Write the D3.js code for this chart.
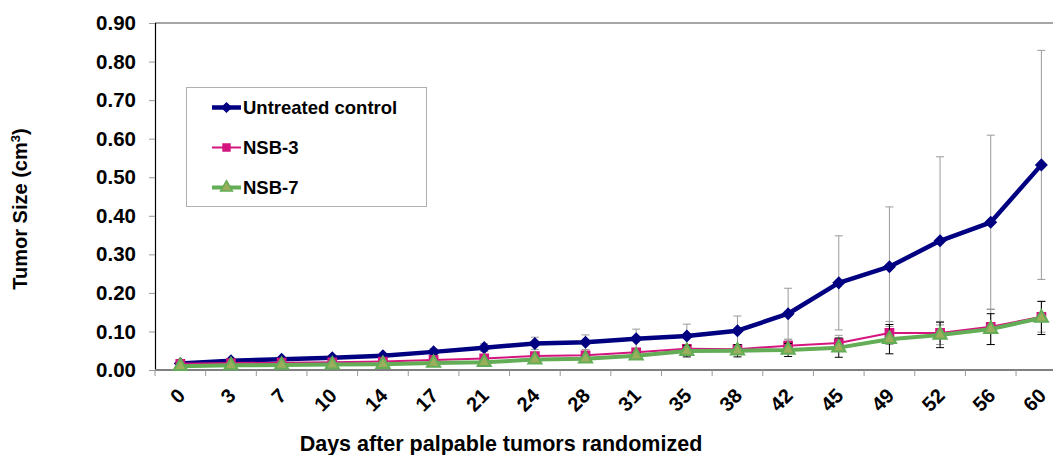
<!DOCTYPE html>
<html>
<head>
<meta charset="utf-8">
<script src="https://cdn.jsdelivr.net/npm/d3@7"></script>
<style>
    body { margin: 0; padding: 0; background: #fff; }
    text { font-family: "Liberation Sans", Arial, sans-serif; font-weight: bold; fill: #000; }
</style>
</head>
<body>
<div id="chart"></div>
<script>
    // days after randomization (x categories)
    const days = [0, 3, 7, 10, 14, 17, 21, 24, 28, 31, 35, 38, 42, 45, 49, 52, 56, 60];

    // mean tumor size (cm3)
    const control = [0.017, 0.024, 0.028, 0.032, 0.037, 0.047, 0.058, 0.069, 0.072, 0.081, 0.088, 0.102, 0.146, 0.226, 0.268, 0.335, 0.383, 0.532];
    const nsb3 = [0.016, 0.018, 0.019, 0.020, 0.022, 0.026, 0.030, 0.036, 0.038, 0.046, 0.055, 0.054, 0.063, 0.070, 0.096, 0.096, 0.112, 0.138];
    const nsb7 = [0.010, 0.012, 0.013, 0.014, 0.015, 0.018, 0.020, 0.027, 0.029, 0.037, 0.049, 0.050, 0.052, 0.058, 0.080, 0.091, 0.106, 0.135];

    // error bar half-widths
    const controlErr = [0.004, 0.005, 0.005, 0.006, 0.006, 0.008, 0.010, 0.016, 0.019, 0.025, 0.031, 0.038, 0.066, 0.122, 0.155, 0.218, 0.226, 0.297];
    const nsb3Err = [0.003, 0.003, 0.003, 0.003, 0.004, 0.005, 0.006, 0.007, 0.008, 0.009, 0.010, 0.012, 0.015, 0.020, 0.030, 0.030, 0.046, 0.040];
    const nsb7Err = [0.002, 0.002, 0.002, 0.003, 0.003, 0.004, 0.005, 0.006, 0.007, 0.008, 0.015, 0.016, 0.017, 0.025, 0.038, 0.033, 0.040, 0.043];

    const yTicks = [0, 0.1, 0.2, 0.3, 0.4, 0.5, 0.6, 0.7, 0.8, 0.9];

    // diamond = square turned 45 degrees
    const series = [
        { name: "Untreated control", values: control, err: controlErr, color: "#000080", width: 4.5, errColor: "#9a9a9a", symbol: d3.symbolSquare, rot: 45, size: 52, fill: "#000080", stroke: "#000080" },
        { name: "NSB-3", values: nsb3, err: nsb3Err, color: "#d4157f", width: 2, errColor: "#9a9a9a", symbol: d3.symbolSquare, rot: 0, size: 60, fill: "#d4157f", stroke: "#d4157f" },
        { name: "NSB-7", values: nsb7, err: nsb7Err, color: "#62ad56", width: 4, errColor: "#000", symbol: d3.symbolTriangle, rot: 0, size: 75, fill: "#9aae5c", stroke: "#62ad56" }
    ];

    const W = 1053, H = 455;
    const plotLeft = 155, plotTop = 23, plotBottom = 370;
    const step = 50.65;
    const plotRight = plotLeft + days.length * step;

    const svg = d3.select("#chart").append("svg")
        .attr("width", W).attr("height", H);

    const x = d3.scaleBand().domain(days).range([plotLeft, plotRight]);
    const y = d3.scaleLinear().domain([0, 0.9]).range([plotBottom, plotTop]);
    const cx = d => x(d) + x.bandwidth() / 2;

    // top border
    svg.append("line")
        .attr("x1", plotLeft).attr("x2", plotRight)
        .attr("y1", plotTop).attr("y2", plotTop)
        .attr("stroke", "#888").attr("stroke-width", 1.5);

    // y axis
    const yAxis = svg.append("g")
        .attr("transform", `translate(${plotLeft},0)`)
        .call(d3.axisLeft(y).tickValues(yTicks).tickFormat(d3.format(".2f")).tickSize(6).tickPadding(13));
    yAxis.select(".domain").attr("stroke", "#000").attr("stroke-width", 1.2);
    yAxis.selectAll(".tick line").attr("stroke", "#999");
    yAxis.selectAll(".tick text").style("font-size", "20.5px");

    // x axis: ticks at category boundaries
    svg.append("line")
        .attr("x1", plotLeft).attr("x2", plotRight)
        .attr("y1", plotBottom).attr("y2", plotBottom)
        .attr("stroke", "#808080").attr("stroke-width", 1.8);
    svg.selectAll(".xtick")
        .data(days)
        .enter().append("line")
        .attr("x1", d => x(d)).attr("x2", d => x(d))
        .attr("y1", plotBottom).attr("y2", plotBottom + 6)
        .attr("stroke", "#999");
    svg.selectAll(".xlabel")
        .data(days)
        .enter().append("text")
        .attr("transform", d => `translate(${cx(d) + 1},${plotBottom + 22}) rotate(-45)`)
        .attr("text-anchor", "end")
        .attr("dy", "0.35em")
        .style("font-size", "20px")
        .text(d => d);

    // error bars, lines and markers per series
    const line = d3.line().x((d, i) => cx(days[i])).y(d => y(d));
    series.forEach(s => {
        const g = svg.append("g");
        const eb = g.selectAll(".eb").data(s.values).enter().append("g")
            .attr("stroke", s.errColor).attr("stroke-width", 1);
        eb.append("line")
            .attr("x1", (d, i) => cx(days[i])).attr("x2", (d, i) => cx(days[i]))
            .attr("y1", (d, i) => y(d + s.err[i])).attr("y2", (d, i) => y(Math.max(0, d - s.err[i])));
        eb.append("line")
            .attr("x1", (d, i) => cx(days[i]) - 4).attr("x2", (d, i) => cx(days[i]) + 4)
            .attr("y1", (d, i) => y(d + s.err[i])).attr("y2", (d, i) => y(d + s.err[i]));
        eb.append("line")
            .attr("x1", (d, i) => cx(days[i]) - 4).attr("x2", (d, i) => cx(days[i]) + 4)
            .attr("y1", (d, i) => y(Math.max(0, d - s.err[i]))).attr("y2", (d, i) => y(Math.max(0, d - s.err[i])));

        g.append("path")
            .datum(s.values)
            .attr("d", line)
            .attr("fill", "none")
            .attr("stroke", s.color)
            .attr("stroke-width", s.width)
            .attr("stroke-linejoin", "round");

        g.selectAll(".mk").data(s.values).enter().append("path")
            .attr("d", d3.symbol().type(s.symbol).size(s.size))
            .attr("transform", (d, i) => `translate(${cx(days[i])},${y(d)}) rotate(${s.rot})`)
            .attr("fill", s.fill)
            .attr("stroke", s.stroke)
            .attr("stroke-width", 2);
    });

    // legend
    const lg = svg.append("g");
    lg.append("rect")
        .attr("x", 186.5).attr("y", 87.5)
        .attr("width", 240).attr("height", 119)
        .attr("fill", "#fff").attr("stroke", "#b0b0b0").attr("stroke-width", 1);
    const items = lg.selectAll(".item").data(series).enter().append("g")
        .attr("transform", (d, i) => `translate(0,${107.5 + i * 40})`);
    items.append("line")
        .attr("x1", 212).attr("x2", 241)
        .attr("stroke", d => d.color)
        .attr("stroke-width", d => d.width);
    items.append("path")
        .attr("d", d => d3.symbol().type(d.symbol).size(d.size * 0.8)())
        .attr("transform", d => `translate(226.5,0) rotate(${d.rot})`)
        .attr("fill", d => d.fill)
        .attr("stroke", d => d.stroke)
        .attr("stroke-width", 1.5);
    items.append("text")
        .attr("x", 243).attr("dy", "0.35em")
        .style("font-size", "18.5px")
        .text(d => d.name);

    // axis titles
    svg.append("text")
        .attr("transform", `translate(27,209) rotate(-90)`)
        .attr("text-anchor", "middle")
        .style("font-size", "20px")
        .html("Tumor Size (cm<tspan dy='-7' style='font-size:13px'>3</tspan><tspan dy='7'>)</tspan>");

    svg.append("text")
        .attr("x", 501).attr("y", 451)
        .attr("text-anchor", "middle")
        .style("font-size", "21.5px")
        .text("Days after palpable tumors randomized");
</script>
</body>
</html>
